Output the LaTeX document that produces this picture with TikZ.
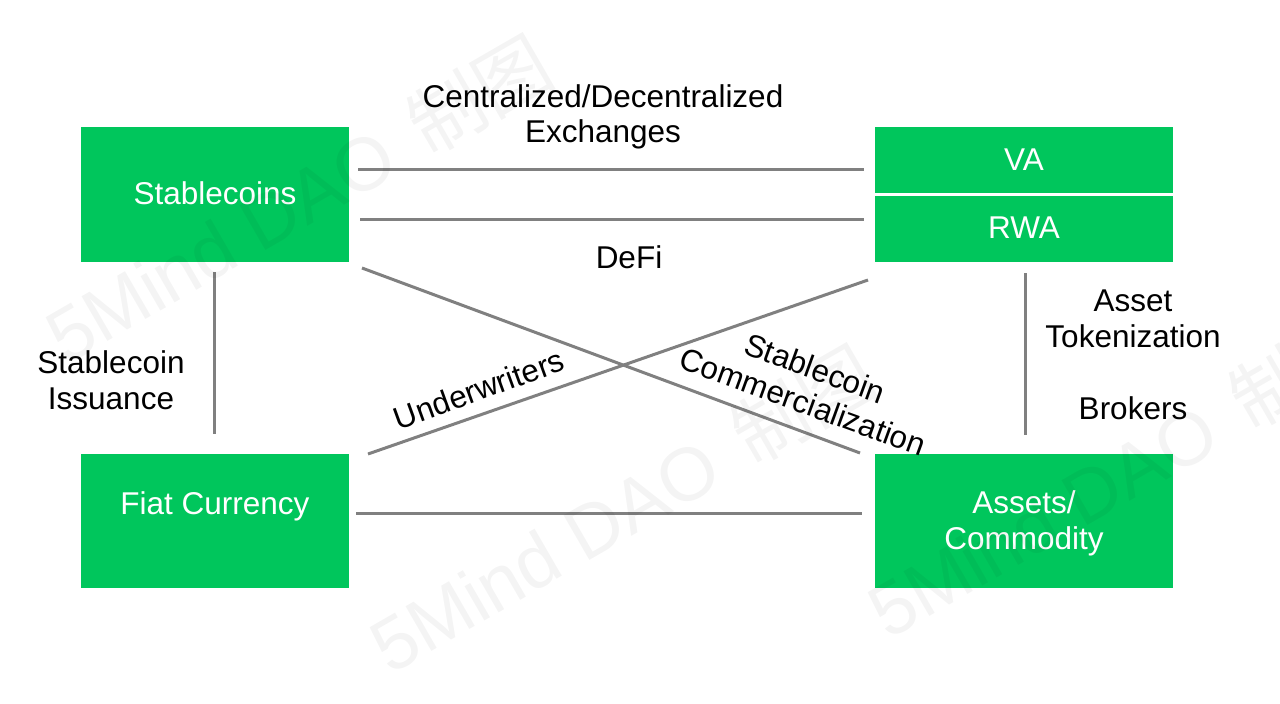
\documentclass[tikz,border=0pt]{standalone}
\usepackage{fontspec}
\setmainfont{Liberation Sans}
\newfontfamily\cjkfont{Noto Sans CJK SC}
\definecolor{boxgreen}{RGB}{0,198,92}
\definecolor{linegray}{RGB}{128,128,128}
\tikzset{
 x=1pt,y=-1pt,
 greenbox/.style={fill=boxgreen,draw=none,inner sep=0pt,minimum width=#1,text=white,font=\fontsize{31.5}{35.5}\selectfont,align=center},
 conn/.style={draw=linegray,line width=3pt},
 lab/.style={font=\fontsize{31.5}{35.5}\selectfont,text=black,align=center,inner sep=0pt},
 wm/.style={font=\fontsize{75}{75}\selectfont,text=black,text opacity=0.045,rotate=30,inner sep=0pt}
}
\begin{document}
\begin{tikzpicture}
\useasboundingbox (0,0) rectangle (1280,704);
\node[greenbox=268pt,minimum height=135pt] (stable) at (215,194.5) {};
\node[lab,text=white] (stabletxt) at (215,193) {Stablecoins};
\node[greenbox=268pt,minimum height=134pt] (fiat) at (215,521) {};
\node[lab,text=white] (fiattxt) at (215,506) {Fiat Currency};
\node[greenbox=298pt,minimum height=66pt] (va) at (1024,160) {VA};
\node[greenbox=298pt,minimum height=66pt] (rwa) at (1024,229) {};
\node[lab,text=white] (rwatxt) at (1024,228) {RWA};
\node[greenbox=298pt,minimum height=134pt] (assets) at (1024,521) {};
\node[lab,text=white] (assetstxt) at (1024,523.5) {Assets/\\Commodity};
\coordinate (a1) at (358,169.5); \coordinate (a2) at (864,169.5);
\coordinate (b1) at (360,219.5); \coordinate (b2) at (864,219.5);
\coordinate (c1) at (362,268); \coordinate (c2) at (860,453);
\coordinate (d1) at (368,454); \coordinate (d2) at (868,280);
\coordinate (e1) at (356,513); \coordinate (e2) at (862,513);
\coordinate (f1) at (214,272); \coordinate (f2) at (214,434);
\coordinate (g1) at (1025,273); \coordinate (g2) at (1025,435);
\draw[conn] (a1) -- (a2);
\draw[conn] (b1) -- (b2);
\draw[conn] (c1) -- (c2);
\draw[conn] (d1) -- (d2);
\draw[conn] (e1) -- (e2);
\draw[conn] (f1) -- (f2);
\draw[conn] (g1) -- (g2);
\node[lab] (l1) at (603,117) {Centralized/Decentralized\\Exchanges};
\node[lab] (l2) at (629,257) {DeFi};
\node[lab] (l3) at (111,380) {Stablecoin\\Issuance};
\node[lab] (l4) at (1133,319) {Asset\\Tokenization};
\node[lab] (l5) at (1133,408) {Brokers};
\node[lab,rotate=-20] (l6) at (809,385) {Stablecoin\\Commercialization};
\node[lab,rotate=20] (l7) at (479,389) {Underwriters};
\node[wm] (w1) at (298,199) {5Mind DAO\hspace{10pt} \cjkfont 制图};
\node[wm] (w2) at (622,509) {5Mind DAO\hspace{10pt} \cjkfont 制图};
\node[wm] (w3) at (1120,474) {5Mind DAO\hspace{10pt} \cjkfont 制图};
\end{tikzpicture}
\end{document}
